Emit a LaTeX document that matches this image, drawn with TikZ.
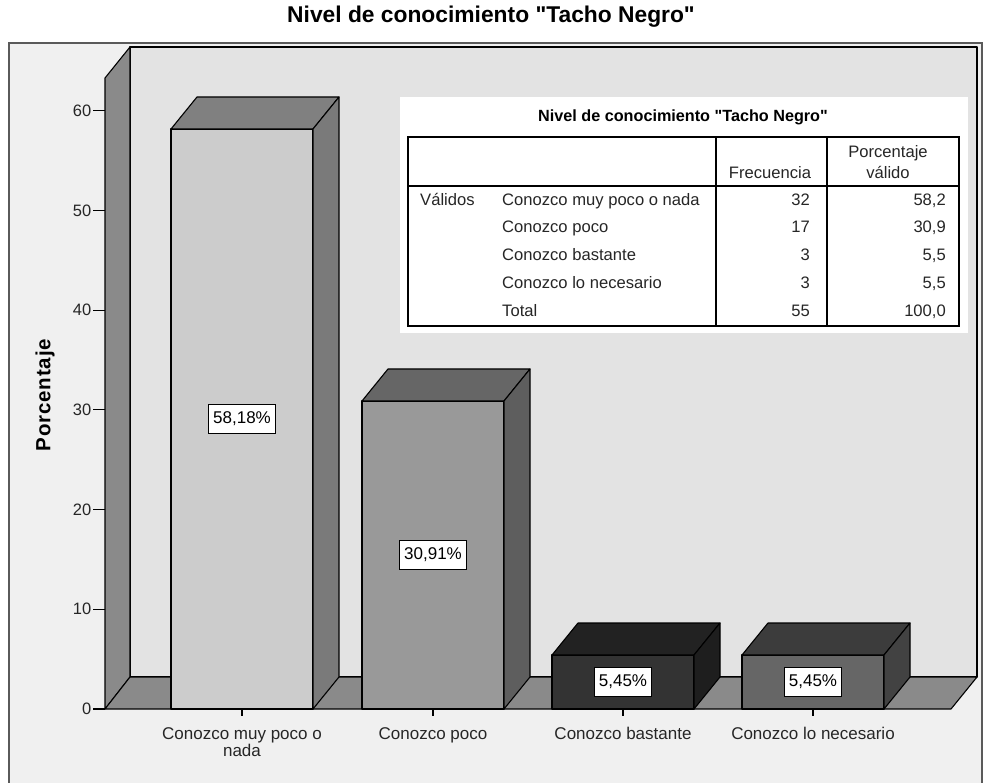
\documentclass[tikz,border=0pt]{standalone}
\usepackage{fontspec}
\setmainfont{Liberation Sans}
\newfontfamily\lab{Liberation Sans}
\newfontfamily\ylb[LetterSpace=4]{Liberation Sans}
\definecolor{outerbg}{HTML}{F0F0F0}
\definecolor{wallbg}{HTML}{E3E3E3}
\definecolor{floorc}{HTML}{8A8A8A}
\definecolor{framec}{HTML}{5A5A5A}
\definecolor{bAf}{HTML}{CCCCCC}\definecolor{bAt}{HTML}{808080}\definecolor{bAs}{HTML}{7A7A7A}
\definecolor{bBf}{HTML}{999999}\definecolor{bBt}{HTML}{666666}\definecolor{bBs}{HTML}{5E5E5E}
\definecolor{bCf}{HTML}{333333}\definecolor{bCt}{HTML}{222222}\definecolor{bCs}{HTML}{1E1E1E}
\definecolor{bDf}{HTML}{666666}\definecolor{bDt}{HTML}{3C3C3C}\definecolor{bDs}{HTML}{424242}
\tikzset{
  edge3d/.style={draw=black, line width=1.1pt, line join=round},
  ticklab/.style={font=\lab\fontsize{16.5}{19}\selectfont, inner sep=0.5pt, text=black!85},
  catlab/.style={font=\lab\fontsize{17}{19}\selectfont, anchor=base, inner sep=0pt, text=black!85},
  vallab/.style={draw=black, line width=0.9pt, fill=white, font=\lab\fontsize{17}{19}\selectfont, inner xsep=4.5pt, minimum height=29pt, inner ysep=0pt},
  tbl/.style={font=\lab\fontsize{16.6}{19}\selectfont, inner sep=0pt, text=black!85},
}
\newcommand\drawbar[5]{%
  \pgfmathsetmacro\R{#1+142}%
  \draw[edge3d, fill=#3] (#1,#2) rectangle (\R,709);
  \draw[edge3d, fill=#4] (#1,#2) -- ++(26,-32) -- (\R+26,#2-32) -- (\R,#2) -- cycle;
  \draw[edge3d, fill=#5] (\R,#2) -- ++(26,-32) -- (\R+26,677) -- (\R,709) -- cycle;}
\begin{document}
\begin{tikzpicture}[x=1pt,y=-1pt]
\useasboundingbox (0,0) rectangle (983,783);
\clip (0,0) rectangle (983,783);
\fill[white] (0,0) rectangle (983,783);
% outer frame
\draw[fill=outerbg, draw=framec, line width=2pt] (9,43) rectangle (982,800);
% title
\node[font=\lab\bfseries\fontsize{22.8}{26}\selectfont, anchor=base, inner sep=0pt] (title) at (491,23) {Nivel de conocimiento "Tacho Negro"};
% back wall, left wall, floor
\draw[edge3d, fill=wallbg] (130,47) rectangle (977,677);
\draw[edge3d, fill=floorc] (105,78) -- (130,47) -- (130,677) -- (105,709) -- cycle;
\draw[edge3d, fill=floorc] (105,709) -- (130,677) -- (977,677) -- (951,709) -- cycle;
% y axis ticks
\foreach \v in {0,10,...,60}{
  \pgfmathsetmacro\yy{709-9.97*\v}
  \draw[line width=1.1pt] (93,\yy) -- (105,\yy);
  \node[ticklab, anchor=east] (yt\v) at (92,\yy) {\v};
}
\node[font=\ylb\bfseries\fontsize{20.5}{22}\selectfont, rotate=90, inner sep=0pt] (ylab) at (45,395) {Porcentaje};
% bars
\drawbar{171}{129}{bAf}{bAt}{bAs}
\drawbar{362}{401}{bBf}{bBt}{bBs}
\drawbar{552}{655}{bCf}{bCt}{bCs}
\drawbar{742}{655}{bDf}{bDt}{bDs}
% value labels
\node[vallab] (v1) at (242,419) {58,18\%};
\node[vallab] (v2) at (433,555) {30,91\%};
\node[vallab] (v3) at (623,682) {5,45\%};
\node[vallab] (v4) at (813,682) {5,45\%};
% category ticks and labels
\foreach \x in {242,433,623,813}{\draw[line width=1.1pt] (\x,709) -- (\x,716);}
\node[catlab] (c1) at (242,739) {Conozco muy poco o};
\node[catlab] (c1b) at (242,756) {nada};
\node[catlab] (c2) at (433,739) {Conozco poco};
\node[catlab] (c3) at (623,739) {Conozco bastante};
\node[catlab] (c4) at (813,739) {Conozco lo necesario};
% table
\fill[white] (400,97) rectangle (968,333);
\draw[line width=2pt] (408,137) rectangle (959,326);
\draw[line width=2pt] (408,186) -- (959,186);
\draw[line width=1.3pt] (716,137) -- (716,326);
\draw[line width=1.3pt] (827,137) -- (827,326);
\node[tbl, font=\lab\bfseries\fontsize{16.2}{18}\selectfont, anchor=base, text=black] (ttitle) at (683,122) {Nivel de conocimiento "Tacho Negro"};
\node[tbl, anchor=base] (hf) at (770,179) {Frecuencia};
\node[tbl, anchor=base] (hp1) at (888,158) {Porcentaje};
\node[tbl, anchor=base] (hp2) at (888,179) {válido};
\node[tbl, anchor=base west] (rv) at (420,206) {Válidos};
\node[tbl, anchor=base west] (r1) at (502,206) {Conozco muy poco o nada};
\node[tbl, anchor=base west] (r2) at (502,233) {Conozco poco};
\node[tbl, anchor=base west] (r3) at (502,261) {Conozco bastante};
\node[tbl, anchor=base west] (r4) at (502,289) {Conozco lo necesario};
\node[tbl, anchor=base west] (r5) at (502,317) {Total};
\node[tbl, anchor=base east] (f1) at (810,206) {32};
\node[tbl, anchor=base east] (f2) at (810,233) {17};
\node[tbl, anchor=base east] (f3) at (810,261) {3};
\node[tbl, anchor=base east] (f4) at (810,289) {3};
\node[tbl, anchor=base east] (f5) at (810,317) {55};
\node[tbl, anchor=base east] (p1) at (946,206) {58,2};
\node[tbl, anchor=base east] (p2) at (946,233) {30,9};
\node[tbl, anchor=base east] (p3) at (946,261) {5,5};
\node[tbl, anchor=base east] (p4) at (946,289) {5,5};
\node[tbl, anchor=base east] (p5) at (946,317) {100,0};
\end{tikzpicture}
\end{document}
